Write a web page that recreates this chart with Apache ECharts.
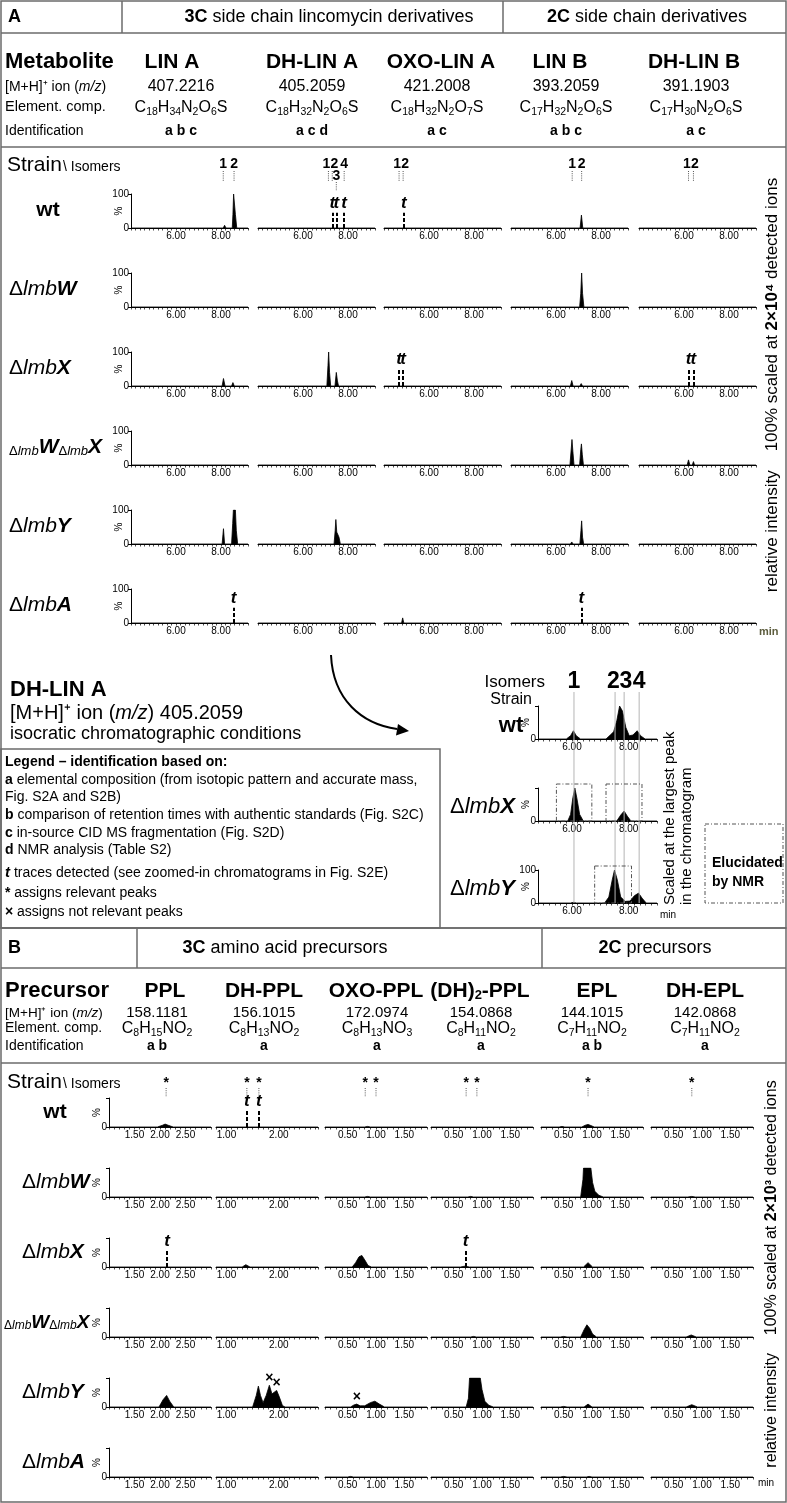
<!DOCTYPE html>
<html lang="en">
<head>
<meta charset="UTF-8">
<title>Lincomycin derivatives and precursors</title>
<script src="https://cdn.jsdelivr.net/npm/echarts@6/dist/echarts.min.js"></script>
<style>
    html, body { margin: 0; padding: 0; background: #fff; }
    #main { width: 787px; height: 1503px; }
</style>
</head>
<body>
<div id="main"></div>
<script type="text/javascript">
var FF = '"Liberation Sans", Arial, Helvetica, sans-serif';

// ===== Panel A : side chain lincomycin derivatives =====
var aMetabolites = ['LIN A', 'DH-LIN A', 'OXO-LIN A', 'LIN B', 'DH-LIN B'];
var aMz = ['407.2216', '405.2059', '421.2008', '393.2059', '391.1903'];
var aFormula = ['C18H34N2O6S', 'C18H32N2O6S', 'C18H32N2O7S', 'C17H32N2O6S', 'C17H30N2O6S'];
var aIdent = ['a b c', 'a c d', 'a c', 'a b c', 'a c'];
var aStrains = ['wt', 'W', 'X', 'WX', 'Y', 'A'];
var aRange = [4.0, 9.2];
var aTickLabels = [6, 8];
var aIsomers = [[8.1, 8.58], [7.13, 7.3, 7.48, 7.83], [4.67, 4.85], [6.72, 7.14], [6.2, 6.42]];
var aIsomerNames = [['1', '2'], ['1', '2', '3', '4'], ['1', '2'], ['1', '2'], ['1', '2']];

// traces [retention time (min), % intensity], one list per metabolite
var aWt = [
    [[8.1, 0], [8.16, 8], [8.22, 0], [8.5, 0], [8.53, 40], [8.56, 100], [8.61, 100], [8.64, 40], [8.7, 0]],
    [], [],
    [[7.07, 0], [7.13, 38], [7.19, 0]],
    []
];
var aWtT = [[], [7.3, 7.48, 7.83], [4.88], [], []];
var aW = [
    [], [], [],
    [[7.05, 0], [7.1, 40], [7.14, 100], [7.18, 40], [7.24, 0]],
    []
];
var aWT = [[], [], [], [], []];
var aX = [
    [[8.05, 0], [8.11, 22], [8.18, 0], [8.47, 0], [8.53, 10], [8.59, 0]],
    [[7.06, 0], [7.11, 60], [7.14, 100], [7.18, 40], [7.23, 0], [7.42, 0], [7.48, 40], [7.53, 15], [7.58, 0]],
    [[5.4, 0], [5.45, 2], [5.5, 0]],
    [[6.64, 0], [6.7, 16], [6.76, 0], [7.06, 0], [7.12, 7], [7.18, 0]],
    []
];
var aXT = [[], [], [4.67, 4.85], [], [6.2, 6.42]];
var aWX = [
    [], [], [],
    [[6.62, 0], [6.68, 50], [6.71, 75], [6.75, 40], [6.8, 0], [7.05, 0], [7.1, 45], [7.13, 62], [7.17, 30], [7.22, 0]],
    [[6.14, 0], [6.2, 15], [6.26, 0], [6.37, 0], [6.42, 10], [6.47, 0]]
];
var aWXT = [[], [], [], [], []];
var aY = [
    [[8.05, 0], [8.11, 45], [8.16, 0], [8.47, 0], [8.52, 60], [8.55, 100], [8.6, 95], [8.64, 100], [8.68, 40], [8.74, 0]],
    [[7.38, 0], [7.43, 40], [7.46, 72], [7.5, 35], [7.56, 38], [7.6, 20], [7.66, 0]],
    [],
    [[6.64, 0], [6.7, 6], [6.76, 0], [7.06, 0], [7.11, 40], [7.14, 68], [7.18, 20], [7.23, 0]],
    []
];
var aYT = [[], [], [], [], []];
var aA = [
    [], [],
    [[4.78, 0], [4.83, 15], [4.88, 0]],
    [], []
];
var aAT = [[8.56], [], [], [7.13], []];

// ===== inset: DH-LIN A, isocratic conditions =====
var iStrains = ['wt', 'X', 'Y'];
var iRange = [4.8, 9.0];
var iTickLabels = [6, 8];
var iIsomers = [6.07, 7.52, 7.84, 8.37];
var iIsomerNames = ['1', '2', '3', '4'];
var iWt = [[5.8, 0], [5.95, 10], [6.05, 25], [6.15, 10], [6.3, 0], [7.2, 0], [7.35, 12], [7.47, 22], [7.58, 55], [7.68, 100], [7.78, 85], [7.9, 35], [8.02, 10], [8.15, 12], [8.3, 25], [8.42, 10], [8.58, 0]];
var iX = [[5.85, 0], [5.95, 20], [6.03, 70], [6.1, 100], [6.17, 70], [6.27, 20], [6.4, 0], [7.58, 0], [7.72, 18], [7.84, 30], [7.95, 15], [8.08, 0]];
var iY = [[5.95, 0], [6.05, 2], [6.15, 0], [7.15, 0], [7.3, 18], [7.42, 70], [7.5, 100], [7.6, 70], [7.72, 18], [7.88, 5], [8.05, 6], [8.2, 22], [8.35, 30], [8.47, 15], [8.62, 0]];
var iBoxesX = [[5.45, 6.7], [7.2, 8.47]];
var iBoxesY = [[6.8, 8.1]];

// ===== Panel B : amino acid precursors =====
var bPrecursors = ['PPL', 'DH-PPL', 'OXO-PPL', '(DH)2-PPL', 'EPL', 'DH-EPL'];
var bMz = ['158.1181', '156.1015', '172.0974', '154.0868', '144.1015', '142.0868'];
var bFormula = ['C8H15NO2', 'C8H13NO2', 'C8H13NO3', 'C8H11NO2', 'C7H11NO2', 'C7H11NO2'];
var bIdent = ['a b', 'a', 'a', 'a', 'a b', 'a'];
var bStrains = ['wt', 'W', 'X', 'WX', 'Y', 'A'];
var bRanges = [[1.0, 3.0], [0.8, 2.75], [0.1, 1.9], [0.1, 1.9], [0.1, 1.9], [0.1, 1.9]];
var bTickLabels = [[1.5, 2.0, 2.5], [1.0, 2.0], [0.5, 1.0, 1.5], [0.5, 1.0, 1.5], [0.5, 1.0, 1.5], [0.5, 1.0, 1.5]];
var bIsomers = [[2.12], [1.39, 1.62], [0.81, 1.0], [0.72, 0.91], [0.93], [0.82]];

var bWt = [
    [[1.95, 0], [2.05, 6], [2.1, 10], [2.16, 6], [2.26, 0]],
    [],
    [[0.8, 0], [0.85, 2], [0.9, 0]],
    [],
    [[0.42, 0], [0.47, 2], [0.52, 0], [0.82, 0], [0.88, 6], [0.93, 9], [0.98, 5], [1.04, 0]],
    []
];
var bWtT = [[], [1.39, 1.62], [], [], [], []];
var bW = [
    [], [],
    [[0.8, 0], [0.85, 2], [0.9, 0]],
    [[0.75, 0], [0.8, 2], [0.85, 0]],
    [[0.8, 0], [0.84, 60], [0.85, 100], [0.98, 100], [1.01, 50], [1.05, 20], [1.12, 6], [1.2, 0]],
    [[0.75, 0], [0.82, 2], [0.88, 0]]
];
var bWT = [[], [], [], [], [], []];
var bX = [
    [],
    [[1.3, 0], [1.37, 8], [1.45, 0]],
    [[0.58, 0], [0.64, 15], [0.7, 35], [0.75, 40], [0.8, 25], [0.86, 5], [0.92, 0]],
    [[0.62, 0], [0.7, 3], [0.78, 0]],
    [[0.85, 0], [0.93, 15], [1.01, 0]],
    []
];
var bXT = [[2.14], [], [], [0.71], [], []];
var bWX = [
    [], [], [],
    [[0.8, 0], [0.85, 2], [0.9, 0]],
    [[0.44, 0], [0.5, 2], [0.56, 0], [0.8, 0], [0.86, 25], [0.91, 42], [0.96, 30], [1.01, 10], [1.08, 0]],
    [[0.72, 0], [0.81, 7], [0.9, 0]]
];
var bWXT = [[], [], [], [], [], []];
var bY = [
    [[1.98, 0], [2.06, 25], [2.13, 40], [2.19, 20], [2.27, 0]],
    [[1.5, 0], [1.57, 40], [1.61, 72], [1.65, 40], [1.7, 15], [1.76, 40], [1.82, 75], [1.87, 45], [1.92, 52], [1.96, 57], [2.01, 35], [2.07, 5], [2.12, 0]],
    [[0.55, 0], [0.61, 7], [0.66, 10], [0.72, 4], [0.8, 4], [0.9, 15], [0.98, 20], [1.06, 10], [1.15, 0]],
    [[0.72, 0], [0.76, 30], [0.78, 100], [0.97, 100], [1.0, 60], [1.05, 20], [1.12, 6], [1.2, 0]],
    [[0.44, 0], [0.5, 2], [0.56, 0], [0.86, 0], [0.93, 10], [1.0, 0]],
    [[0.72, 0], [0.82, 8], [0.92, 0]]
];
var bYT = [[], [], [], [], [], []];
var bYNotRelevant = [[], [1.82, 1.96], [0.66], [], [], []];
var bA = [
    [], [],
    [[0.5, 0], [0.55, 2], [0.6, 0]],
    [],
    [[0.44, 0], [0.5, 2], [0.56, 0], [0.9, 0], [0.95, 2], [1.0, 0]],
    []
];
var bAT = [[], [], [], [], [], []];

// ===== layout =====
var A_LEFT = [131, 258, 384, 511, 639], A_W = 117, A_H = 34;
var A_TOP = [194, 273, 352, 431, 510, 589];
var A_TITLE_X = [172, 312, 441, 560, 694];
var A_VAL_X = [181, 312, 437, 566, 696];
var B_LEFT = [109, 216, 325, 431, 541, 651], B_W = 102, B_H = 29;
var B_TOP = [1098, 1168, 1238, 1308, 1378, 1448];
var B_TITLE_X = [165, 264, 376, 480, 597, 705];
var B_VAL_X = [157, 264, 377, 481, 592, 705];
var I_LEFT = 538, I_W = 119, I_H = 33;
var I_TOP = [706, 788, 870];

var chart = echarts.init(document.getElementById('main'));
var grids = [], xAxes = [], yAxes = [], series = [];

// yMode: 0 = no y axis, 1 = "0" only, 2 = "0" and "100"
function addPlot(left, top, width, height, range, interval, tickLabels, yMode, points, tMarks, tHeight) {
    var gi = grids.length;
    grids.push({left: left, top: top, width: width, height: height, outerBoundsMode: 'none'});
    xAxes.push({
        gridIndex: gi, type: 'value', min: range[0], max: range[1], interval: interval,
        axisLine: {onZero: false, lineStyle: {color: '#000', width: 1}},
        axisTick: {length: 2.5, lineStyle: {color: '#000', width: 0.7}},
        splitLine: {show: false},
        axisLabel: {
            fontSize: 10, fontFamily: FF, color: '#000', margin: 3,
            formatter: function (v) {
                for (var i = 0; i < tickLabels.length; i++) {
                    if (Math.abs(v - tickLabels[i]) < 1e-6) return tickLabels[i].toFixed(2);
                }
                return '';
            }
        }
    });
    yAxes.push({
        gridIndex: gi, type: 'value', min: 0, max: 100, interval: 100, show: yMode > 0,
        axisLine: {show: true, lineStyle: {color: '#000', width: 1}},
        axisTick: {show: true, length: 3, lineStyle: {color: '#000'}},
        splitLine: {show: false},
        axisLabel: {
            fontSize: 10, fontFamily: FF, color: '#000', margin: 2,
            formatter: function (v) { return v === 0 ? '0' : (yMode === 2 && v === 100 ? '100' : ''); }
        },
        name: '%', nameLocation: 'middle', nameRotate: 90, nameGap: 7, nameMoveOverlap: false,
        nameTextStyle: {fontSize: 10, fontFamily: FF, color: '#000'}
    });
    var s = {
        type: 'line', xAxisIndex: gi, yAxisIndex: gi,
        data: [[range[0], 0]].concat(points, [[range[1], 0]]),
        symbol: 'none', silent: true, animation: false,
        lineStyle: {color: '#000', width: 0.8},
        areaStyle: {color: '#000', opacity: 1}
    };
    if (tMarks && tMarks.length) {
        s.markLine = {
            symbol: ['none', 'none'], silent: true, animation: false,
            lineStyle: {color: '#000', type: [4, 2], width: 2},
            label: {show: true, position: 'end', formatter: 't', fontStyle: 'italic', fontWeight: 'bold',
                fontSize: 17, fontFamily: FF, color: '#000', distance: 1},
            data: tMarks.map(function (rt) { return [{coord: [rt, 0]}, {coord: [rt, tHeight]}]; })
        };
    }
    series.push(s);
    return gi;
}

// panel A plots
var aTraces = [aWt, aW, aX, aWX, aY, aA];
var aTraceT = [aWtT, aWT, aXT, aWXT, aYT, aAT];
var aGrid = [];
for (var r = 0; r < aStrains.length; r++) {
    aGrid.push([]);
    for (var c = 0; c < aMetabolites.length; c++) {
        aGrid[r].push(addPlot(A_LEFT[c], A_TOP[r], A_W, A_H, aRange, 0.2, aTickLabels, c === 0 ? 2 : 0,
            aTraces[r][c], aTraceT[r][c], r === 2 ? 52 : 45));
    }
}
// inset plots
var iTraces = [iWt, iX, iY];
var iGrid = [];
for (var k = 0; k < iStrains.length; k++) {
    iGrid.push(addPlot(I_LEFT, I_TOP[k], I_W, I_H, iRange, 0.2, iTickLabels, k === 2 ? 2 : 1, iTraces[k], [], 0));
}
// panel B plots
var bTraces = [bWt, bW, bX, bWX, bY, bA];
var bTraceT = [bWtT, bWT, bXT, bWXT, bYT, bAT];
var bGrid = [];
for (r = 0; r < bStrains.length; r++) {
    bGrid.push([]);
    for (c = 0; c < bPrecursors.length; c++) {
        bGrid[r].push(addPlot(B_LEFT[c], B_TOP[r], B_W, B_H, bRanges[c], 0.1, bTickLabels[c], c === 0 ? 1 : 0,
            bTraces[r][c], bTraceT[r][c], 55));
    }
}

// ---------- static texts and frames ----------
function rs(size, extra) {
    var o = {fontSize: size, fontFamily: FF, color: '#000', verticalAlign: 'bottom', lineHeight: size};
    for (var key in extra) o[key] = extra[key];
    return o;
}
function T(x, y, text, size, o) {
    o = o || {};
    return {
        type: 'text', x: x, y: y, z: 20, silent: true, rotation: o.rot || 0,
        style: {
            text: text, fontSize: size, fontFamily: FF, fill: o.color || '#000',
            fontWeight: o.bold ? 'bold' : 'normal', fontStyle: o.italic ? 'italic' : 'normal',
            align: o.align || 'left', verticalAlign: 'middle', rich: o.rich
        }
    };
}
function L(x1, y1, x2, y2, o) {
    o = o || {};
    return {type: 'line', z: o.z || 15, silent: true, shape: {x1: x1, y1: y1, x2: x2, y2: y2},
        style: {stroke: o.color || '#6b6b6b', lineWidth: o.w || 1.5, lineDash: o.dash || null}};
}
function R(x, y, w, h, o) {
    o = o || {};
    return {type: 'rect', z: o.z || 15, silent: true, shape: {x: x, y: y, width: w, height: h},
        style: {fill: 'none', stroke: o.color || '#6b6b6b', lineWidth: o.w || 1.5, lineDash: o.dash || null}};
}
function formulaRich(f) {
    return f.replace(/([A-Z][a-z]?)(\d*)/g, function (m, el, n) {
        return '{n|' + el + '}' + (n ? '{s|' + n + '}' : '');
    });
}
var formulaStyles = {
    n: {fontSize: 16, fontFamily: FF, color: '#000', lineHeight: 20, verticalAlign: 'middle'},
    s: {fontSize: 10.5, fontFamily: FF, color: '#000', lineHeight: 10, verticalAlign: 'bottom'}
};
function strainRich(key) {
    if (key === 'wt') return '{bw|wt}';
    if (key.length === 2) return '{sn|Δ}{si|lmb}{bi|' + key[0] + '}{sn|Δ}{si|lmb}{bi|' + key[1] + '}';
    return '{n|Δ}{i|lmb}{bi|' + key + '}';
}
function strainStyles(size, small) {
    small = small || 13;
    return {
        bw: rs(size, {fontWeight: 'bold'}),
        n: rs(size), i: rs(size, {fontStyle: 'italic'}),
        bi: rs(size, {fontStyle: 'italic', fontWeight: 'bold'}),
        sn: rs(small), si: rs(small, {fontStyle: 'italic'})
    };
}
function boldRich(size) {
    return {b: {fontWeight: 'bold', fontSize: size, fontFamily: FF, color: '#000'}};
}

var G = [];
// panel A frame
G.push(R(1, 1, 785, 927));
G.push(L(1, 33, 786, 33), L(122, 1, 122, 33), L(503, 1, 503, 33), L(1, 147, 786, 147));
G.push(T(8, 17, 'A', 18, {bold: true}));
G.push(T(329, 17, '{b|3C} side chain lincomycin derivatives', 18, {align: 'center', rich: boldRich(18)}));
G.push(T(647, 17, '{b|2C} side chain derivatives', 18, {align: 'center', rich: boldRich(18)}));
G.push(T(5, 62, 'Metabolite', 22, {bold: true}));
G.push(T(5, 87, '[M+H]⁺ ion ({i|m/z})', 14, {rich: {i: {fontStyle: 'italic', fontSize: 14, fontFamily: FF}}}));
G.push(T(5, 107, 'Element. comp.', 14.5));
G.push(T(5, 131, 'Identification', 14));
for (c = 0; c < aMetabolites.length; c++) {
    G.push(T(A_TITLE_X[c], 62, aMetabolites[c], 21, {bold: true, align: 'center'}));
    G.push(T(A_VAL_X[c], 87, aMz[c], 16, {align: 'center'}));
    G.push(T(A_VAL_X[c], 108, formulaRich(aFormula[c]), 16, {align: 'center', rich: formulaStyles}));
    G.push(T(A_VAL_X[c], 131, aIdent[c], 14, {bold: true, align: 'center'}));
}
G.push(T(7, 165, 'Strain', 21));
G.push(T(63, 167, '\\ Isomers', 14));
for (r = 0; r < aStrains.length; r++) {
    var ay = A_TOP[r] + A_H / 2 - 1;
    G.push(T(aStrains[r] === 'wt' ? 48 : 9, ay, strainRich(aStrains[r]), 21,
        {align: aStrains[r] === 'wt' ? 'center' : 'left', rich: strainStyles(21)}));
}
G.push(T(759, 632, 'min', 11, {bold: true, color: '#5c5c3d'}));
G.push(T(772, 385, 'relative intensity    100% scaled at {b|2×10⁴} detected ions', 17,
    {rot: Math.PI / 2, align: 'center', rich: boldRich(17)}));

// DH-LIN A block
G.push(T(10, 690, 'DH-LIN A', 22, {bold: true}));
G.push(T(10, 713, '[M+H]⁺ ion ({i|m/z}) 405.2059', 20, {rich: {i: {fontStyle: 'italic', fontSize: 20, fontFamily: FF}}}));
G.push(T(10, 734, 'isocratic chromatographic conditions', 18));
G.push({type: 'bezierCurve', z: 15, silent: true,
    shape: {x1: 331, y1: 655, cpx1: 333, cpy1: 700, cpx2: 362, cpy2: 724, x2: 397, y2: 729},
    style: {stroke: '#000', lineWidth: 2, fill: 'none'}});
G.push({type: 'polygon', z: 15, silent: true, shape: {points: [[409, 731], [396, 735.5], [398, 724]]}, style: {fill: '#000'}});

// legend box
G.push(R(1, 749, 439, 179));
var legendLines = [
    ['{b|Legend – identification based on:}', 762],
    ['{b|a} elemental composition (from isotopic pattern and accurate mass,', 780],
    ['Fig. S2A and S2B)', 797],
    ['{b|b} comparison of retention times with authentic standards (Fig. S2C)', 815],
    ['{b|c} in-source CID MS fragmentation (Fig. S2D)', 833],
    ['{b|d} NMR analysis (Table S2)', 850],
    ['{bi|t} traces detected (see zoomed-in chromatograms in Fig. S2E)', 873],
    ['{b|*} assigns relevant peaks', 893],
    ['{b|×} assigns not relevant peaks', 912]
];
legendLines.forEach(function (ln) {
    G.push(T(5, ln[1], ln[0], 14, {rich: {
        b: {fontWeight: 'bold', fontSize: 14, fontFamily: FF},
        bi: {fontWeight: 'bold', fontStyle: 'italic', fontSize: 15, fontFamily: FF}
    }}));
});

// inset labels
G.push(T(545, 682, 'Isomers', 17, {align: 'right'}));
G.push(T(532, 700, 'Strain', 16, {align: 'right'}));
for (k = 0; k < iStrains.length; k++) {
    var iy = I_TOP[k] + I_H / 2 + 2;
    if (iStrains[k] === 'wt') G.push(T(511, I_TOP[k] + 20, '{bw|wt}', 22, {align: 'center', rich: strainStyles(22)}));
    else G.push(T(450, iy, strainRich(iStrains[k]), 22, {rich: strainStyles(22)}));
}
G.push(T(660, I_TOP[2] + I_H + 12, 'min', 10));
G.push(T(670, 905, 'Scaled at the largest peak', 15, {rot: Math.PI / 2}));
G.push(T(687, 905, 'in the chromatogram', 15, {rot: Math.PI / 2}));
G.push(R(705, 824, 78, 79, {color: '#555', w: 1, dash: [4, 2, 1, 2]}));
G.push(T(712, 863, 'Elucidated', 14, {bold: true}));
G.push(T(712, 882, 'by NMR', 14, {bold: true}));

// panel B frame
G.push(R(1, 928, 785, 574));
G.push(L(1, 968, 786, 968), L(137, 928, 137, 968), L(542, 928, 542, 968), L(1, 1063, 786, 1063));
G.push(T(8, 948, 'B', 18, {bold: true}));
G.push(T(285, 948, '{b|3C} amino acid precursors', 18, {align: 'center', rich: boldRich(18)}));
G.push(T(655, 948, '{b|2C} precursors', 18, {align: 'center', rich: boldRich(18)}));
G.push(T(5, 991, 'Precursor', 22, {bold: true}));
G.push(T(5, 1013, '[M+H]⁺ ion ({i|m/z})', 13.5, {rich: {i: {fontStyle: 'italic', fontSize: 13.5, fontFamily: FF}}}));
G.push(T(5, 1028, 'Element. comp.', 14));
G.push(T(5, 1046, 'Identification', 14));
for (c = 0; c < bPrecursors.length; c++) {
    var title = bPrecursors[c].replace('(DH)2', '(DH){s|2}');
    G.push(T(B_TITLE_X[c], 991, title, 21, {bold: true, align: 'center', rich: {
        s: {fontWeight: 'bold', fontSize: 13, fontFamily: FF, verticalAlign: 'bottom', lineHeight: 10}
    }}));
    G.push(T(B_VAL_X[c], 1013, bMz[c], 15, {align: 'center'}));
    G.push(T(B_VAL_X[c], 1029, formulaRich(bFormula[c]), 15, {align: 'center', rich: formulaStyles}));
    G.push(T(B_VAL_X[c], 1046, bIdent[c], 14, {bold: true, align: 'center'}));
}
G.push(T(7, 1082, 'Strain', 21));
G.push(T(63, 1084, '\\ Isomers', 14));
for (r = 0; r < bStrains.length; r++) {
    var by = B_TOP[r] + B_H / 2;
    var isWX = bStrains[r] === 'WX';
    var bx = bStrains[r] === 'wt' ? 55 : (isWX ? 4 : 22);
    G.push(T(bx, by, strainRich(bStrains[r]), isWX ? 19 : 21,
        {align: bStrains[r] === 'wt' ? 'center' : 'left', rich: strainStyles(isWX ? 19 : 21, isWX ? 12 : 13)}));
}
G.push(T(758, 1483, 'min', 10));
G.push(T(772, 1274, 'relative intensity    100% scaled at {b|2×10³} detected ions', 16,
    {rot: Math.PI / 2, align: 'center', rich: boldRich(16)}));

chart.setOption({
    animation: false,
    backgroundColor: '#fff',
    grid: grids, xAxis: xAxes, yAxis: yAxes, series: series,
    graphic: {elements: G}
});

// ---------- annotations placed through the axes ----------
function px(gi, v) { return chart.convertToPixel({xAxisIndex: gi}, v); }
function py(gi, v) { return chart.convertToPixel({yAxisIndex: gi}, v); }
function spread(xs, minGap) {
    var p = xs.slice();
    for (var it = 0; it < 20; it++) {
        for (var i = 1; i < p.length; i++) {
            var d = p[i] - p[i - 1];
            if (d < minGap) { var m = (minGap - d) / 2; p[i - 1] -= m; p[i] += m; }
        }
    }
    return p;
}
var D = [];
var dotted = {color: '#555', w: 1, dash: [1, 1.2]};
for (c = 0; c < aMetabolites.length; c++) {
    var names = aIsomerNames[c];
    var upper = [], lower = [];
    for (k = 0; k < names.length; k++) {
        var x = px(aGrid[0][c], aIsomers[c][k]);
        var isLow = (c === 1 && names[k] === '3');
        (isLow ? lower : upper).push([x, names[k]]);
        D.push(isLow ? L(x, 182, x, 191, dotted) : L(x, 171, x, 182, dotted));
    }
    var tp = spread(upper.map(function (q) { return q[0]; }), 8);
    upper.forEach(function (q, i) { D.push(T(tp[i], 164, q[1], 14, {bold: true, align: 'center'})); });
    lower.forEach(function (q) { D.push(T(q[0], 176, q[1], 14, {bold: true, align: 'center'})); });
}
for (c = 0; c < bPrecursors.length; c++) {
    var bx2 = bIsomers[c].map(function (v) { return px(bGrid[0][c], v); });
    var bp = spread(bx2, 7);
    bx2.forEach(function (x, i) {
        D.push(L(x, 1088, x, 1097, dotted));
        D.push(T(bp[i], 1083, '*', 14, {bold: true, align: 'center'}));
    });
    bYNotRelevant[c].forEach(function (rt) {
        var peak = 0;
        bY[c].forEach(function (p) { if (Math.abs(p[0] - rt) < 0.04 && p[1] > peak) peak = p[1]; });
        var g = bGrid[4][c];
        D.push(T(px(g, rt), py(g, peak) - 7, '×', 14, {bold: true, align: 'center'}));
    });
}
// inset guide lines, numbers and NMR boxes
var ixs = iIsomers.map(function (v) { return px(iGrid[0], v); });
var ip = spread(ixs, 12.5);
ixs.forEach(function (x, i) {
    D.push(L(x, 692, x, I_TOP[2] + I_H, {color: '#b5b5b5', w: 1, z: 30}));
    D.push(T(ip[i], 682, iIsomerNames[i], 23, {bold: true, align: 'center'}));
});
var boxStyle = {color: '#555', w: 1, dash: [4, 2, 1, 2], z: 30};
iBoxesX.forEach(function (b) {
    var x1 = px(iGrid[1], b[0]), x2 = px(iGrid[1], b[1]);
    D.push(R(x1, I_TOP[1] - 4, x2 - x1, I_H + 4, boxStyle));
});
iBoxesY.forEach(function (b) {
    var x1 = px(iGrid[2], b[0]), x2 = px(iGrid[2], b[1]);
    D.push(R(x1, I_TOP[2] - 4, x2 - x1, I_H + 4, boxStyle));
});

chart.setOption({graphic: {elements: G.concat(D)}});
</script>
</body>
</html>
